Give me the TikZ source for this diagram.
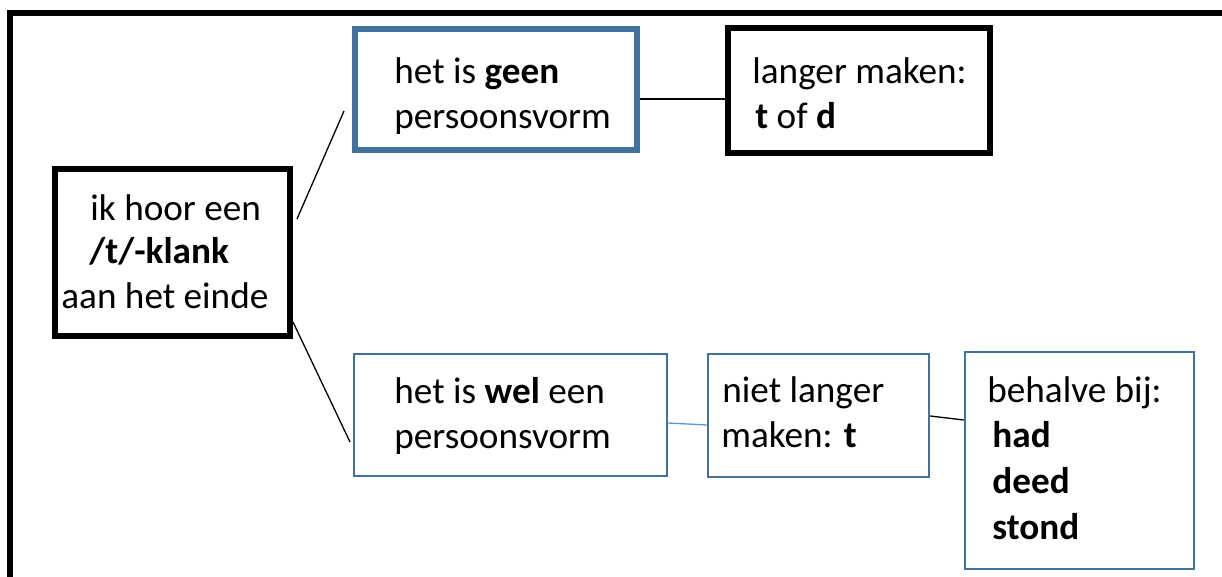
\documentclass[tikz,border=0pt]{standalone}
\usepackage{fontspec}
\setmainfont{Carlito}
\usetikzlibrary{fit}
\definecolor{boxblue}{RGB}{65,113,156}
\definecolor{lineblue}{RGB}{91,155,213}
\begin{document}
\begin{tikzpicture}[x=0.5pt,y=-0.5pt,
  thickblack/.style={draw=black,line width=2.8pt,inner sep=0pt},
  thickblue/.style={draw=boxblue,line width=2.8pt,inner sep=0pt},
  thinblue/.style={draw=boxblue,line width=1.2pt,inner sep=0pt},
  txt/.style={anchor=base west,inner sep=0pt,font=\fontsize{18.6pt}{22pt}\selectfont},
  conn/.style={draw=black,line width=0.65pt}]
\useasboundingbox (0,0) rectangle (1222,577);
% outer frame
\draw[line width=3pt] (10,577) -- (10,13) -- (1222,13);
% boxes
\node[thickblack,fit={(55,169) (290,336)}] (A) {};
\node[thickblue,fit={(355,29) (637,150)}] (B) {};
\node[thickblack,fit={(728,28) (990,153)}] (C) {};
\node[thinblue,fit={(354,354) (667,476)}] (D) {};
\node[thinblue,fit={(708,354) (929,477)}] (E) {};
\node[thinblue,fit={(965,352) (1194,569)}] (F) {};
% texts
\node[txt] (A1) at (90,221) {ik hoor een};
\node[txt] (A2) at (89,264) {\textbf{/t/-klank}};
\node[txt] (A3) at (61,309) {aan het einde};
\node[txt] (B1) at (394,84) {het is \textbf{geen}};
\node[txt] (B2) at (394,129) {persoonsvorm};
\node[txt] (C1) at (752,84) {langer maken:};
\node[txt] (C2) at (755,129) {\textbf{t} of \textbf{d}};
\node[txt] (D1) at (394,404) {het is \textbf{wel} een};
\node[txt] (D2) at (394,449) {persoonsvorm};
\node[txt] (E1) at (722,403) {niet langer};
\node[txt] (E2) at (721,448) {maken: \textbf{t}};
\node[txt] (F1) at (987,403) {behalve bij:};
\node[txt] (F2) at (992,448) {\textbf{had}};
\node[txt] (F3) at (992,494) {\textbf{deed}};
\node[txt] (F4) at (992,539) {\textbf{stond}};
% connector end points
\coordinate (ab1) at (297,219);
\coordinate (ab2) at (344,111);
\coordinate (ad1) at (293,322);
\coordinate (ad2) at (350,442);
% connectors
\draw[conn] (ab1) -- (ab2);
\draw[conn] (ad1) -- (ad2);
\draw[conn] (B.east |- 0,99) -- (C.west |- 0,99);
\draw[conn,draw=lineblue] (D.east |- 0,423) -- (E.west |- 0,425);
\draw[conn] (E.east |- 0,416) -- (F.west |- 0,420);
\end{tikzpicture}
\end{document}
